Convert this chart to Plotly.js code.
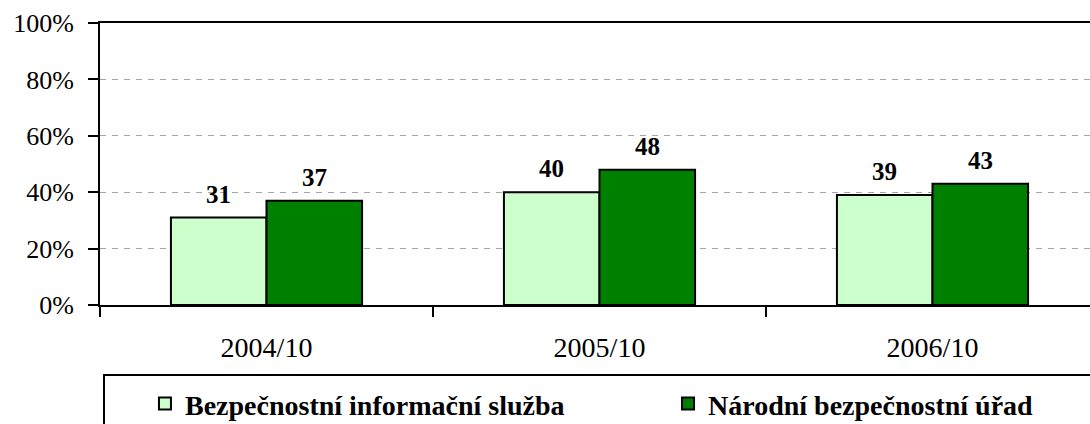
<!DOCTYPE html>
<html>
<head>
<meta charset="utf-8">
<script src="https://cdn.plot.ly/plotly-3.0.1.min.js"></script>
<style>
html,body{margin:0;padding:0;overflow:hidden;background:#fff;}
#chart{width:1100px;height:424px;}
</style>
</head>
<body>
<div id="chart"></div>
<script>
const categories = ['2004/10', '2005/10', '2006/10'];
const seriesNames = ['Bezpečnostní informační služba', 'Národní bezpečnostní úřad'];
const bisValues = [31, 40, 39];
const nbuValues = [37, 48, 43];
const yTicks = [0, 20, 40, 60, 80, 100];
const colors = ['#CCFFCC', '#008000'];

const FONT = '"Liberation Serif", "Times New Roman", serif';

const allSeries = [bisValues, nbuValues];
const legendIds = ['legend', 'legend2'];
const traces = allSeries.map((vals, i) => ({
  type: 'bar',
  name: seriesNames[i],
  x: categories,
  y: vals,
  legend: legendIds[i],
  marker: {color: colors[i], line: {color: '#000', width: 2}},
  hoverinfo: 'x+y+name'
}));

const bargap = 0.426;
const barPx = 999 / 3 * (1 - bargap) / 2;
const annotations = [];
allSeries.forEach((vals, i) => {
  vals.forEach((v, j) => {
    annotations.push({
      x: categories[j], y: v, xref: 'x', yref: 'y',
      text: '<b>' + v + '</b>', showarrow: false,
      xanchor: 'center', yanchor: 'bottom',
      xshift: (i === 0 ? -1 : 1) * barPx / 2, yshift: 8,
      font: {family: FONT, size: 25, color: '#000'}
    });
  });
});

const legendCommon = {
  orientation: 'h', xanchor: 'left', y: -0.262, yanchor: 'top',
  font: {family: FONT, size: 28, color: '#000', weight: 'bold'},
  bgcolor: 'rgba(0,0,0,0)', borderwidth: 0
};

const layout = {
  width: 1100, height: 424,
  margin: {l: 100, r: 1, t: 23, b: 119, autoexpand: false},
  paper_bgcolor: '#fff', plot_bgcolor: '#fff',
  barmode: 'group', bargap: bargap, bargroupgap: 0,
  font: {family: FONT, color: '#000', size: 26},
  xaxis: {
    type: 'category', range: [-0.5, 2.5],
    showline: true, linecolor: '#000', linewidth: 2, mirror: true,
    ticks: 'outside', tickson: 'boundaries', ticklen: 10, tickwidth: 2, tickcolor: '#000',
    ticklabelstandoff: 16,
    tickfont: {family: FONT, size: 28, color: '#000'},
    showgrid: false, zeroline: false, fixedrange: true
  },
  yaxis: {
    range: [0, 100], tickvals: yTicks, ticktext: yTicks.map(t => t + '%'),
    showline: true, linecolor: '#000', linewidth: 2,
    ticks: 'outside', ticklen: 10, tickwidth: 2, tickcolor: '#000',
    ticklabelstandoff: 9,
    tickfont: {family: FONT, size: 26, color: '#000'},
    showgrid: true, gridcolor: '#a6a6a6', gridwidth: 1, griddash: '6px,6px',
    zeroline: false, fixedrange: true
  },
  showlegend: true,
  legend: Object.assign({}, legendCommon, {x: 0.045}),
  legend2: Object.assign({}, legendCommon, {x: 0.5686}),
  shapes: [{
    type: 'rect', xref: 'paper', yref: 'paper',
    x0: 0.004, x1: 1.2, y0: -0.248, y1: -0.5,
    line: {color: '#000', width: 2}, fillcolor: 'rgba(0,0,0,0)', layer: 'above'
  }],
  annotations: annotations
};

Plotly.newPlot('chart', traces, layout, {displayModeBar: false, staticPlot: true});
</script>
</body>
</html>
